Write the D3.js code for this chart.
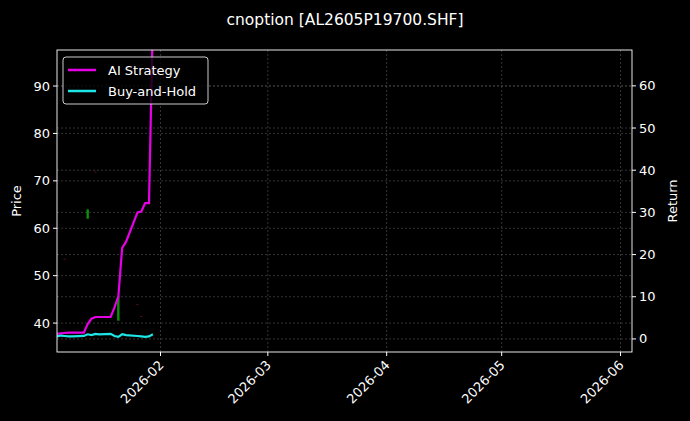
<!DOCTYPE html>
<html><head><meta charset="utf-8">
<script src="https://cdn.jsdelivr.net/npm/d3@7"></script>
<style>body{margin:0;background:#000}svg{display:block;font-family:"DejaVu Sans",sans-serif}</style>
</head><body><svg id="chart" width="690" height="421"></svg>
<script>
const dates = ["2026-01-05","2026-01-06","2026-01-07","2026-01-08","2026-01-09","2026-01-12","2026-01-13","2026-01-14","2026-01-15","2026-01-16","2026-01-19","2026-01-20","2026-01-21","2026-01-22","2026-01-23","2026-01-26","2026-01-27","2026-01-28","2026-01-29","2026-01-30"];
const strategy = [1.2,1.3,1.4,1.5,1.5,1.5,3.5,4.8,5.2,5.2,5.2,7.5,10,21.6,23,30,30.2,32.2,32.2,75];
const buyHold = [0.6,0.8,0.7,0.6,0.6,0.7,1.1,0.9,1.2,1.1,1.2,0.7,0.5,1.1,0.9,0.7,0.6,0.5,0.6,1.1];
// few visible candles: date, open, close
const candleDates = ["2026-01-07","2026-01-13","2026-01-15","2026-01-21","2026-01-26","2026-01-27"];
const candleOpen = [53.6,62,72,40.5,44,41.5];
const candleClose = [53.4,64,71.8,45.6,43.8,41.3];
const leftTicks = [40,50,60,70,80,90];
const rightTicks = [0,10,20,30,40,50,60];

const parse = d3.timeParse("%Y-%m-%d");
const svg = d3.select("#chart");
const L = 57, R = 632, T = 50, B = 352;
const x = d3.scaleTime().domain([parse("2026-01-05"), parse("2026-06-04")]).range([L, R]);
const yP = d3.scaleLinear().domain([33.9, 97.6]).range([B, T]);
const yR = d3.scaleLinear().domain([-3.1, 68.5]).range([B, T]);
const months = d3.timeMonth.range(parse("2026-02-01"), parse("2026-06-02"));

svg.append("clipPath").attr("id","c").append("rect").attr("x",L).attr("y",T).attr("width",R-L).attr("height",B-T);
const grid = svg.append("g").attr("stroke","#666").attr("stroke-dasharray","2,2").attr("stroke-width",0.5);
months.forEach(m => grid.append("line").attr("x1",x(m)).attr("x2",x(m)).attr("y1",T).attr("y2",B));
leftTicks.forEach(v => grid.append("line").attr("x1",L).attr("x2",R).attr("y1",yP(v)).attr("y2",yP(v)));
rightTicks.forEach(v => grid.append("line").attr("x1",L).attr("x2",R).attr("y1",yR(v)).attr("y2",yR(v)));

const g = svg.append("g").attr("clip-path","url(#c)");
candleDates.forEach((d,i) => {
  const up = candleClose[i] >= candleOpen[i];
  g.append("rect").attr("x", x(parse(d))-1.2).attr("width",2.4)
    .attr("y", yP(Math.max(candleOpen[i],candleClose[i])))
    .attr("height", Math.max(1, Math.abs(yP(candleOpen[i])-yP(candleClose[i]))))
    .attr("fill", up ? "#0a8f0a" : "#5a0c0c");
});
const line = d3.line().x(d=>x(d[0])).y(d=>yR(d[1]));
g.append("path").attr("d", line(dates.map((d,i)=>[parse(d), strategy[i]]))).attr("fill","none").attr("stroke","#e600e6").attr("stroke-width",2.2);
g.append("path").attr("d", line(dates.map((d,i)=>[parse(d), buyHold[i]]))).attr("fill","none").attr("stroke","#1ee6e6").attr("stroke-width",2.2);

svg.append("rect").attr("x",L).attr("y",T).attr("width",R-L).attr("height",B-T).attr("fill","none").attr("stroke","#fff").attr("stroke-width",0.9);

const ax = svg.append("g").attr("fill","#fff").attr("font-size",13);
leftTicks.forEach(v => {
  ax.append("line").attr("x1",L-4).attr("x2",L).attr("y1",yP(v)).attr("y2",yP(v)).attr("stroke","#fff");
  ax.append("text").attr("x",L-7).attr("y",yP(v)+4.5).attr("text-anchor","end").text(v);
});
rightTicks.forEach(v => {
  ax.append("line").attr("x1",R).attr("x2",R+4).attr("y1",yR(v)).attr("y2",yR(v)).attr("stroke","#fff");
  ax.append("text").attr("x",R+7).attr("y",yR(v)+4.5).text(v);
});
const fmt = d3.timeFormat("%Y-%m");
months.forEach(m => {
  ax.append("line").attr("x1",x(m)).attr("x2",x(m)).attr("y1",B).attr("y2",B+4).attr("stroke","#fff");
  ax.append("text").attr("transform",`translate(${x(m)+4},${B+14}) rotate(-45)`).attr("text-anchor","end").text(fmt(m));
});
ax.append("text").attr("transform",`translate(21,${(T+B)/2}) rotate(-90)`).attr("text-anchor","middle").text("Price");
ax.append("text").attr("transform",`translate(677,${(T+B)/2}) rotate(-90)`).attr("text-anchor","middle").text("Return");
svg.append("text").attr("x",345).attr("y",25).attr("text-anchor","middle").attr("fill","#fff").attr("font-size",15.5).text("cnoption [AL2605P19700.SHF]");

const lg = svg.append("g");
lg.append("rect").attr("x",63).attr("y",57).attr("width",145).attr("height",47).attr("rx",3).attr("fill","#000").attr("fill-opacity",0.8).attr("stroke","#ccc");
[["AI Strategy","#e600e6"],["Buy-and-Hold","#1ee6e6"]].forEach((s,i)=>{
  const yy = 70 + i*21;
  lg.append("line").attr("x1",68).attr("x2",96).attr("y1",yy).attr("y2",yy).attr("stroke",s[1]).attr("stroke-width",2.5);
  lg.append("text").attr("x",108).attr("y",yy+4.5).attr("fill","#fff").attr("font-size",13).text(s[0]);
});
</script></body></html>
